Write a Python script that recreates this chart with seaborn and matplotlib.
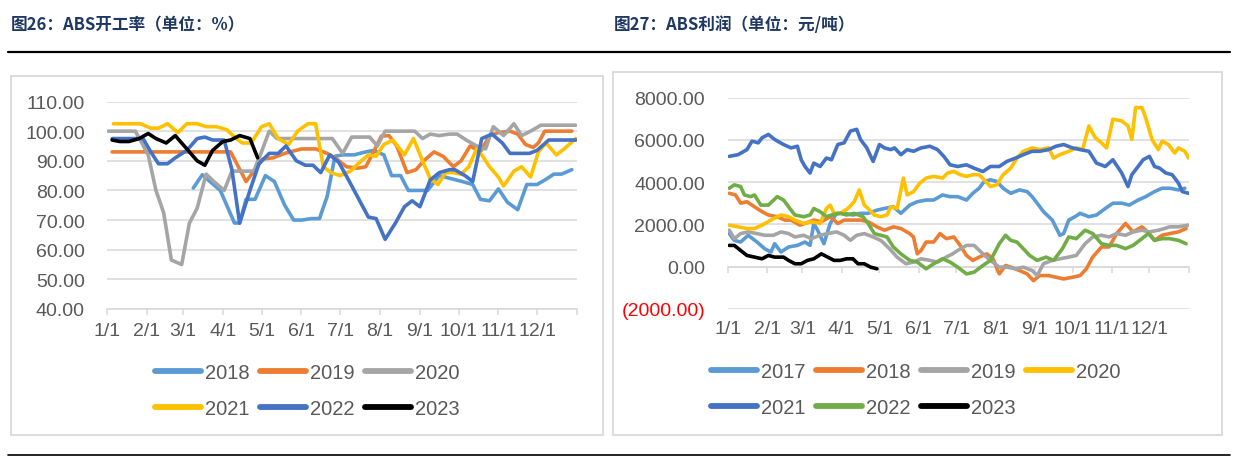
import numpy as np
import pandas as pd
import matplotlib
matplotlib.use("Agg")
import matplotlib.pyplot as plt
import seaborn as sns
from matplotlib.patches import Rectangle
from matplotlib.lines import Line2D

# ---------------- data: ABS operating rate (%) ----------------
month_ticks = [0, 31, 59, 90, 120, 151, 181, 212, 243, 273, 304, 334, 365]
month_labels = ["1/1", "2/1", "3/1", "4/1", "5/1", "6/1", "7/1", "8/1", "9/1",
                "10/1", "11/1", "12/1", ""]

rate_years = ["2018", "2019", "2020", "2021", "2022", "2023"]
rate_d2018 = [67, 74, 80, 88, 99, 103, 108, 115, 123, 130, 138, 145, 151, 159, 165, 171, 177, 183, 192, 201,
              207, 215, 221, 228, 234, 243, 249, 258, 267, 276, 284, 290, 297, 304, 311, 319, 326, 334, 340, 347,
              353, 361]
rate_v2018 = [80.8, 85.3, 83, 80, 69, 69, 77, 77, 85, 83, 75, 70, 70, 70.5, 70.5, 78, 91.5, 92, 92, 93,
              93.5, 92, 85, 85, 80, 80, 80, 85, 84, 83, 82, 77, 76.5, 80.5, 76, 73.5, 82, 82, 83.5, 85.5,
              85.5, 87]
rate_d2019 = [4, 96, 108, 121, 129, 138, 151, 162, 171, 177, 186, 195, 201, 207, 213, 219, 225, 233, 240, 246,
              254, 261, 269, 275, 282, 290, 297, 304, 313, 319, 325, 331, 335, 340, 361]
rate_v2019 = [93, 93, 83, 90.6, 91, 92.5, 94, 94, 92.5, 91, 88, 87.5, 88, 93, 98.3, 98.5, 95, 86, 87, 90,
              93, 91.5, 88, 90, 95, 93, 98.5, 99.5, 100, 99, 95.5, 94.5, 96, 100, 100]
rate_d2020 = [1, 22, 32, 38, 44, 50, 58, 64, 70, 77, 83, 91, 97, 114, 120, 126, 132, 175, 183, 190,
              204, 210, 216, 239, 245, 251, 258, 266, 272, 279, 287, 294, 300, 308, 316, 322, 329, 337, 364]
rate_v2020 = [100, 100, 92, 80, 72.5, 56.5, 55, 69, 74, 85.5, 83, 80, 86.5, 86.5, 93, 100, 97.5, 97.5, 92.5, 98,
              98, 95, 100, 100, 97.5, 99, 98.5, 99, 99, 97, 95, 94, 101.5, 98.5, 102.5, 98.5, 100, 102, 102]
rate_d2021 = [5, 26, 34, 40, 47, 55, 62, 70, 77, 85, 93, 99, 105, 112, 120, 126, 133, 141, 148, 156,
              162, 168, 174, 181, 189, 195, 203, 209, 215, 222, 231, 238, 245, 251, 257, 263, 269, 275, 281, 287,
              291, 297, 304, 308, 316, 322, 329, 335, 341, 349, 355, 364]
rate_v2021 = [102.5, 102.5, 101, 101, 102.5, 99.5, 102.5, 102.5, 101.5, 101.5, 100.5, 98, 96, 96, 101.5, 102.5,
              97.5, 95.5, 100, 102.5, 102.5, 88, 86, 85, 86.5, 89, 92, 91.5, 95.5, 97, 92, 97.5, 90, 84, 82, 86,
              86, 85.5, 88, 94, 92, 88, 84.5, 81.5, 86.5, 88, 84.5, 93, 96, 92, 94, 97.5]
rate_d2022 = [4, 22, 28, 34, 40, 47, 53, 62, 70, 76, 82, 91, 97, 103, 111, 118, 126, 133, 139, 147,
              154, 160, 166, 173, 180, 187, 195, 203, 209, 216, 224, 231, 237, 243, 251, 258, 266, 270, 278, 284,
              291, 299, 307, 313, 320, 328, 334, 343, 364]
rate_v2022 = [97.5, 97.5, 97.5, 93, 89, 89, 91, 93.5, 97.5, 98, 97, 97, 87, 69, 80, 89, 92.5, 92.5, 95, 90,
              88.5, 88.5, 86, 92, 89.5, 84, 77.5, 71, 70.5, 63.5, 69, 74.5, 76.5, 74.5, 83.5, 86, 87, 87, 85, 83,
              97.5, 99, 96, 92.5, 92.5, 92.5, 93.5, 97, 97]
rate_d2023 = [4, 10, 17, 25, 32, 38, 46, 53, 62, 70, 76, 82, 90, 96, 103, 111, 117]
rate_v2023 = [97, 96.5, 96.5, 97.5, 99.2, 97.5, 96, 98.5, 94, 90, 88.5, 93.5, 96.5, 97, 98.5, 97.5, 91]

# ---------------- data: ABS profit (yuan/ton) ----------------
profit_years = ["2017", "2018", "2019", "2020", "2021", "2022", "2023"]
prof_d2017 = [1, 5, 10, 16, 23, 29, 34, 37, 42, 48, 55, 61, 65, 68, 71, 76, 81, 86, 92, 99,
              105, 111, 118, 124, 131, 137, 144, 150, 157, 163, 170, 176, 182, 189, 194, 199, 203, 208, 213, 218,
              224, 231, 237, 241, 245, 250, 257, 263, 266, 270, 275, 279, 286, 292, 299, 305, 312, 318, 325, 331,
              338, 344, 350, 357, 362]
prof_v2017 = [1560, 1240, 1160, 1480, 1160, 845, 685, 1080, 685, 925, 1000, 1160, 1000, 2040, 1720, 1080, 2040,
              2520, 2520, 2440, 2520, 2520, 2670, 2750, 2830, 2520, 2910, 3070, 3150, 3150, 3390, 3310, 3310, 3150,
              3470, 3710, 4030, 4110, 4030, 3710, 3470, 3630, 3550, 3310, 3000, 2600, 2200, 1480, 1560, 2200, 2360,
              2520, 2360, 2440, 2750, 3000, 3000, 2910, 3150, 3310, 3550, 3710, 3710, 3630, 3710]
prof_d2018 = [1, 6, 10, 15, 21, 27, 32, 39, 45, 50, 57, 61, 68, 74, 81, 87, 92, 99, 105, 111,
              118, 124, 131, 137, 144, 147, 150, 153, 157, 163, 168, 173, 179, 184, 189, 194, 199, 205, 210, 215,
              220, 224, 231, 237, 242, 247, 254, 260, 266, 273, 279, 284, 289, 296, 302, 308, 315, 321, 328, 334,
              338, 344, 350, 357, 363]
prof_v2018 = [3470, 3390, 3000, 3070, 2830, 2600, 2440, 2360, 2200, 2200, 1960, 2040, 2200, 2120, 2360, 2040,
              2200, 2200, 2200, 2120, 1880, 1720, 1880, 1800, 1560, 1400, 600, 760, 1160, 1160, 1560, 1320, 1400,
              1000, 525, 290, 445, 600, 365, -350, 50, -30, -190, -350, -670, -430, -430, -510, -590, -510, -430,
              -110, 445, 925, 925, 1560, 2040, 1640, 1880, 1560, 1240, 1480, 1560, 1640, 1800]
prof_d2019 = [1, 5, 10, 16, 23, 29, 36, 42, 48, 53, 60, 66, 73, 79, 86, 92, 97, 102, 108, 115,
              121, 128, 134, 141, 147, 153, 160, 166, 173, 178, 182, 189, 195, 202, 208, 215, 221, 228, 234, 241,
              245, 250, 257, 263, 270, 276, 283, 289, 296, 302, 308, 315, 321, 328, 334, 341, 346, 350, 357, 365]
prof_v2019 = [1720, 1320, 1560, 1640, 1560, 1480, 1480, 1640, 1560, 1400, 1480, 1320, 1480, 1560, 1640, 1480,
              1240, 1480, 1560, 1400, 1240, 845, 445, 130, 210, 365, 290, 210, 445, 600, 760, 1000, 1000, 600, 290,
              -30, -30, -110, -30, -190, -430, 130, 290, 365, 445, 525, 1080, 1400, 1480, 1400, 1560, 1480, 1640,
              1720, 1640, 1720, 1800, 1880, 1880, 1960]
prof_d2020 = [1, 8, 15, 21, 27, 34, 42, 48, 53, 60, 66, 73, 78, 81, 84, 89, 95, 100, 104, 108,
              111, 116, 121, 126, 129, 134, 139, 142, 147, 152, 157, 163, 170, 174, 179, 184, 189, 194, 199, 203,
              208, 213, 218, 224, 229, 234, 241, 247, 254, 258, 263, 270, 276, 281, 286, 291, 296, 300, 305, 312,
              317, 320, 323, 328, 331, 336, 341, 344, 349, 354, 357, 362, 365]
prof_v2020 = [1960, 1880, 1800, 1800, 1960, 2200, 2440, 2360, 2200, 2040, 2120, 2040, 2750, 2910, 2520, 2520,
              2750, 3070, 3630, 2910, 2750, 2440, 2360, 2440, 2830, 2750, 4190, 3390, 3550, 3950, 4190, 4270, 4190,
              4430, 4510, 4350, 4270, 4350, 4350, 4110, 3790, 3870, 4350, 4660, 5140, 5460, 5620, 5540, 5620, 5140,
              5300, 5460, 5620, 5540, 6660, 6100, 5860, 5620, 6980, 6900, 6660, 6020, 7530, 7530, 7050, 6020, 5540,
              5940, 5780, 5380, 5620, 5460, 5140]
prof_d2021 = [1, 8, 15, 19, 24, 27, 32, 37, 44, 50, 55, 58, 61, 65, 68, 73, 78, 82, 87, 92,
              97, 102, 105, 110, 115, 120, 124, 129, 132, 137, 142, 147, 153, 160, 166, 171, 176, 182, 189, 195,
              202, 208, 215, 221, 228, 234, 241, 247, 254, 260, 266, 273, 279, 286, 292, 299, 305, 312, 317, 320,
              325, 329, 334, 338, 342, 347, 352, 357, 360, 365]
prof_v2021 = [5220, 5300, 5540, 5940, 5860, 6100, 6260, 6020, 5780, 5620, 5700, 5060, 4740, 4430, 4900, 4740,
              5140, 5060, 5780, 5860, 6420, 6500, 6020, 5620, 4980, 5780, 5620, 5540, 5620, 5300, 5540, 5460, 5620,
              5700, 5540, 5220, 4820, 4740, 4820, 4660, 4500, 4740, 4740, 4980, 5140, 5300, 5460, 5460, 5540, 5700,
              5780, 5620, 5540, 5460, 4900, 4740, 5060, 4430, 3790, 4350, 4740, 5060, 5220, 4740, 4660, 4430, 4350,
              3950, 3550, 3470]
prof_d2022 = [1, 5, 10, 13, 18, 21, 26, 32, 39, 44, 48, 53, 60, 65, 68, 73, 78, 82, 89, 94,
              100, 107, 111, 116, 121, 126, 131, 137, 144, 150, 157, 163, 170, 176, 182, 189, 195, 202, 208, 215,
              220, 224, 229, 234, 239, 245, 252, 258, 265, 270, 276, 283, 289, 296, 302, 308, 315, 321, 328, 333,
              338, 344, 350, 357, 363]
prof_v2022 = [3710, 3870, 3790, 3390, 3310, 3390, 2910, 2910, 3310, 3150, 2830, 2440, 2360, 2440, 2750, 2600,
              2360, 2440, 2520, 2440, 2520, 2360, 2040, 1560, 1480, 1400, 925, 600, 290, 210, -110, 130, 365, 210,
              -30, -350, -270, 50, 290, 1080, 1480, 1240, 1160, 845, 525, 290, 445, 290, 845, 1400, 1320, 1720,
              1560, 1080, 1000, 1000, 845, 1000, 1320, 1560, 1240, 1320, 1320, 1240, 1080]
prof_d2023 = [1, 5, 10, 15, 21, 27, 32, 37, 44, 48, 53, 58, 63, 68, 74, 79, 84, 89, 94, 99, 103, 108, 113, 118]
prof_v2023 = [1000, 1000, 760, 525, 445, 365, 525, 445, 445, 290, 130, 130, 290, 365, 600, 445, 290, 290, 365,
              365, 130, 130, -30, -110]

rate_colors = ["#5B9BD5", "#ED7D31", "#A5A5A5", "#FFC000", "#4472C4", "#000000"]
profit_colors = ["#5B9BD5", "#ED7D31", "#A5A5A5", "#FFC000", "#4472C4", "#70AD47", "#000000"]

rate_df = pd.concat([
    pd.DataFrame({"day": d, "value": v, "year": y})
    for y, d, v in zip(rate_years,
                       [rate_d2018, rate_d2019, rate_d2020, rate_d2021, rate_d2022, rate_d2023],
                       [rate_v2018, rate_v2019, rate_v2020, rate_v2021, rate_v2022, rate_v2023])
])
profit_df = pd.concat([
    pd.DataFrame({"day": d, "value": v, "year": y})
    for y, d, v in zip(profit_years,
                       [prof_d2017, prof_d2018, prof_d2019, prof_d2020, prof_d2021, prof_d2022, prof_d2023],
                       [prof_v2017, prof_v2018, prof_v2019, prof_v2020, prof_v2021, prof_v2022, prof_v2023])
])

# ---------------- figure ----------------
sns.set_theme(style="white")
plt.rcParams["font.family"] = ["Liberation Sans", "DejaVu Sans"]

W, H = 1236, 460
fig = plt.figure(figsize=(W / 100, H / 100), dpi=100)
fig.patch.set_facecolor("white")

GRID = "#D9D9D9"
TXT = "#595959"
LW = 2.6
FS = 14
LFS = 14.5


def px(x0, y0, x1, y1):
    return [x0 / W, 1 - y1 / H, (x1 - x0) / W, (y1 - y0) / H]


# frames
for (x0, y0, x1, y1) in [(11, 77, 603, 436), (613, 73, 1222, 436)]:
    fig.patches.append(Rectangle((x0 / W, 1 - y1 / H), (x1 - x0) / W, (y1 - y0) / H,
                                 transform=fig.transFigure, fill=False, edgecolor=GRID, lw=1.3))
# horizontal rules
fig.lines.append(Line2D([8 / W, 1230 / W], [1 - 53.3 / H] * 2, transform=fig.transFigure, color="black", lw=1.6))
fig.lines.append(Line2D([8 / W, 1230 / W], [1 - 456 / H] * 2, transform=fig.transFigure, color="black", lw=1.2))

# titles
title_font = dict(family=["Noto Sans CJK SC", "DejaVu Sans"], fontsize=12, fontweight="bold", color="#203864")
fig.text(11 / W, 1 - 25 / H, "图26：ABS开工率（单位：%）", va="center", ha="left", **title_font)
fig.text(614 / W, 1 - 25 / H, "图27：ABS利润（单位：元/吨）", va="center", ha="left", **title_font)

# ---------------- left panel ----------------
ax1 = fig.add_axes(px(107, 102.5, 577, 310))
handles1 = []
for y, c in zip(rate_years, rate_colors):
    sub = rate_df[rate_df["year"] == y]
    sns.lineplot(data=sub, x="day", y="value", ax=ax1, color=c, lw=LW, estimator=None, sort=False,
                 legend=False)
    handles1.append(Line2D([], [], color=c, lw=4.2, solid_capstyle="round", label=y))
ax1.set_xlim(0, 365)
ax1.set_ylim(40, 110)
ax1.set_yticks(np.arange(40, 111, 10))
ax1.set_yticklabels([f"{v:.2f}" for v in np.arange(40, 111, 10)])
ax1.set_xticks(month_ticks)
ax1.set_xticklabels(month_labels)
ax1.yaxis.grid(True, color=GRID, lw=1.1)
ax1.xaxis.grid(False)
for s in ["top", "right", "left"]:
    ax1.spines[s].set_visible(False)
ax1.spines["bottom"].set_color(GRID)
ax1.spines["bottom"].set_linewidth(1.1)
ax1.tick_params(axis="y", length=0, pad=16, labelsize=FS, labelcolor=TXT)
ax1.tick_params(axis="x", bottom=True, length=4, width=1.1, color=GRID, direction="out", pad=5,
                labelsize=FS, labelcolor=TXT)
ax1.set_xlabel("")
ax1.set_ylabel("")
ax1.set_facecolor("none")

order1 = [0, 3, 1, 4, 2, 5]
fig.legend([handles1[i] for i in order1], [rate_years[i] for i in order1], ncol=3, frameon=False,
           loc="upper left", bbox_to_anchor=(155 / W, 1 - 364 / H), borderpad=0, borderaxespad=0,
           fontsize=LFS, handlelength=2.3, handletextpad=0.2, columnspacing=0.5, labelspacing=0.85,
           labelcolor=TXT)

# ---------------- right panel ----------------
ax2 = fig.add_axes(px(728, 98.7, 1188.6, 309.7))
handles2 = []
for y, c in zip(profit_years, profit_colors):
    sub = profit_df[profit_df["year"] == y]
    sns.lineplot(data=sub, x="day", y="value", ax=ax2, color=c, lw=LW, estimator=None, sort=False,
                 legend=False)
    handles2.append(Line2D([], [], color=c, lw=4.2, solid_capstyle="round", label=y))
ax2.set_xlim(0, 365)
ax2.set_ylim(-2000, 8000)
yt = np.arange(-2000, 8001, 2000)
ax2.set_yticks(yt)
ax2.set_yticklabels([f"({abs(v):.2f})" if v < 0 else f"{v:.2f}" for v in yt])
ax2.set_xticks(month_ticks)
ax2.set_xticklabels(month_labels)
ax2.yaxis.grid(True, color=GRID, lw=1.1)
ax2.xaxis.grid(False)
for s in ["top", "right", "left", "bottom"]:
    ax2.spines[s].set_visible(False)
ax2.tick_params(axis="y", length=0, pad=16.5, labelsize=FS)
for lab in ax2.get_yticklabels():
    lab.set_color("#FF0000" if lab.get_text().startswith("(") else TXT)
ax2.tick_params(axis="x", bottom=True, length=0, pad=8, labelsize=FS, labelcolor=TXT)
ax2.set_xlabel("")
ax2.set_ylabel("")
ax2.set_facecolor("none")

sec = ax2.secondary_xaxis(0.2)
sec.set_xticks(month_ticks)
sec.tick_params(axis="x", length=4, width=1.1, color=GRID, direction="out", labelbottom=False)
sec.spines["bottom"].set_color(GRID)
sec.spines["bottom"].set_linewidth(1.1)

order2 = [0, 4, 1, 5, 2, 6, 3]
fig.legend([handles2[i] for i in order2], [profit_years[i] for i in order2], ncol=4, frameon=False,
           loc="upper left", bbox_to_anchor=(711 / W, 1 - 363 / H), borderpad=0, borderaxespad=0,
           fontsize=LFS, handlelength=2.3, handletextpad=0.2, columnspacing=0.5, labelspacing=0.85,
           labelcolor=TXT)

fig.savefig("out.png", dpi=100, facecolor="white")
